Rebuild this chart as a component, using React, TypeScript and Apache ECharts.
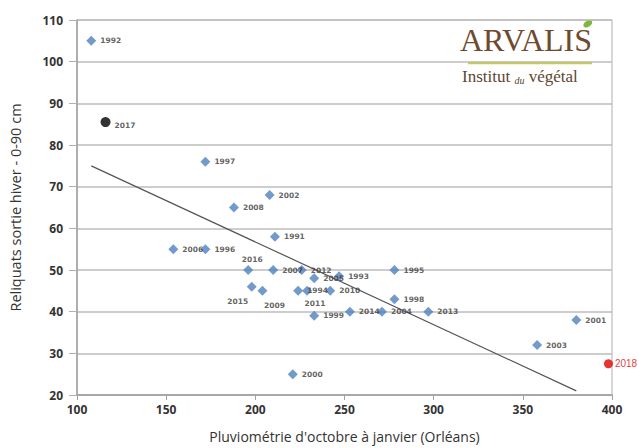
import React, { useEffect, useRef } from "react";
import * as echarts from "echarts";

const years = ["1992","1997","2002","2008","1991","2006","1996","2016","2007","2012","2005","1993","2015","2009","1994","2011","2010","1999","2014","2004","2013","1995","1998","2001","2003","2000"];
const rain = [108,172,208,188,211,154,172,196,210,226,233,247,198,204,224,229,242,233,253,271,297,278,278,380,358,221];
const reliquats = [105,76,68,65,58,55,55,50,50,50,48,48.5,46,45,45,45,45,39,40,40,40,50,43,38,32,25];

const point2017 = { year: "2017", rain: 116, reliquat: 85.5 };
const point2018 = { year: "2018", rain: 398, reliquat: 27.5 };

const trendX = [108, 380];
const trendY = [75, 21];

const xTicks = { min: 100, max: 400, interval: 50 };
const yTicks = { min: 20, max: 110, interval: 10 };

const labelStyle: Record<string, any> = {
  "2015": { position: "bottom", offset: [-14, 2] },
  "2009": { position: "bottom", offset: [12, 2] },
  "2011": { position: "bottom", offset: [8, 0] },
  "2016": { position: "top", offset: [4, 2] },
};

export default function App() {
  const ref = useRef<HTMLDivElement>(null);
  useEffect(() => {
    document.body.style.margin = "0";
    const chart = echarts.init(ref.current!, null, { renderer: "svg" });
    const font = "Open Sans";
    const mainData = years.map((y, i) => {
      const item: any = { value: [rain[i], reliquats[i]], name: y };
      if (labelStyle[y]) item.label = labelStyle[y];
      return item;
    });
    chart.setOption({
      animation: false,
      backgroundColor: "#ffffff",
      grid: {
        left: 77, top: 20, right: 27, bottom: 51,
        show: true, borderColor: "#b0b0b0", borderWidth: 1,
      },
      xAxis: {
        type: "value",
        min: xTicks.min, max: xTicks.max, interval: xTicks.interval,
        name: "Pluviométrie d'octobre à janvier (Orléans)",
        nameLocation: "middle", nameGap: 34,
        nameTextStyle: { fontFamily: font, fontSize: 14, color: "#333333" },
        axisLine: { lineStyle: { color: "#a0a0a0", width: 1.5 } },
        axisTick: { show: true, length: 5, lineStyle: { color: "#a0a0a0" } },
        axisLabel: { fontFamily: font, fontSize: 12, fontWeight: "bold", color: "#333333", margin: 8 },
        splitLine: { show: false },
      },
      yAxis: {
        type: "value",
        min: yTicks.min, max: yTicks.max, interval: yTicks.interval,
        name: "Reliquats sortie hiver - 0-90 cm",
        nameLocation: "middle", nameGap: 54,
        nameTextStyle: { fontFamily: font, fontSize: 14.5, color: "#333333" },
        axisLine: { show: true, lineStyle: { color: "#a0a0a0", width: 1.5 } },
        axisTick: { show: true, length: 8, lineStyle: { color: "#b0b0b0" } },
        axisLabel: { fontFamily: font, fontSize: 12, fontWeight: "bold", color: "#333333", margin: 14 },
        splitLine: { show: true, lineStyle: { color: "#bdbdbd", width: 1.5 } },
      },
      series: [
        {
          type: "line",
          data: trendX.map((x, i) => [x, trendY[i]]),
          showSymbol: false,
          symbol: "none",
          lineStyle: { color: "#555555", width: 1.2 },
          z: 1,
        },
        {
          type: "scatter",
          data: mainData,
          symbol: "diamond",
          symbolSize: 10,
          itemStyle: { color: "#4f81bd" },
          label: {
            show: true, position: "right", distance: 4,
            formatter: (p: any) => p.name,
            fontFamily: "DejaVu Sans", fontSize: 7.5, fontWeight: "bold", color: "#3a3a3a",
          },
          z: 3,
        },
        {
          type: "scatter",
          data: [{ value: [point2017.rain, point2017.reliquat], name: point2017.year }],
          symbol: "circle",
          symbolSize: 10,
          itemStyle: { color: "#000000" },
          label: {
            show: true, position: "right", distance: 4,
            formatter: (p: any) => p.name,
            fontFamily: "DejaVu Sans", fontSize: 7.5, fontWeight: "bold", color: "#3a3a3a", offset: [0, 3],
          },
          z: 3,
        },
        {
          type: "scatter",
          data: [{ value: [point2018.rain, point2018.reliquat], name: point2018.year }],
          symbol: "circle",
          symbolSize: 9,
          itemStyle: { color: "#e00000" },
          label: {
            show: true, position: "right", distance: 2,
            formatter: (p: any) => p.name,
            fontFamily: "Liberation Sans", fontSize: 10, color: "#e00000",
          },
          z: 3,
        },
      ],
      graphic: [
        {
          type: "text", left: 460, top: 24,
          style: { text: "ARVALIS", fontFamily: "Liberation Serif", fontSize: 32, fill: "#6e4a2e" },
        },
        {
          type: "line",
          shape: { x1: 468, y1: 63, x2: 592, y2: 63 },
          style: { stroke: "#c9cf3c", lineWidth: 2.5 },
        },
        {
          type: "ellipse",
          shape: { cx: 588, cy: 24, rx: 5, ry: 3 },
          rotation: 0.6,
          originX: 588, originY: 24,
          style: { fill: "#7db83a" },
        },
        {
          type: "text", left: 462, top: 68,
          style: {
            text: "{a|Institut }{b|du}{a| végétal}",
            rich: {
              a: { fontFamily: "Liberation Serif", fontSize: 17, fill: "#5e4632", verticalAlign: "bottom" },
              b: { fontFamily: "Liberation Serif", fontSize: 10, fontStyle: "italic", fill: "#5e4632", verticalAlign: "bottom" },
            },
          },
        },
      ],
    });
    return () => chart.dispose();
  }, []);
  return <div ref={ref} style={{ width: 639, height: 448 }} />;
}
